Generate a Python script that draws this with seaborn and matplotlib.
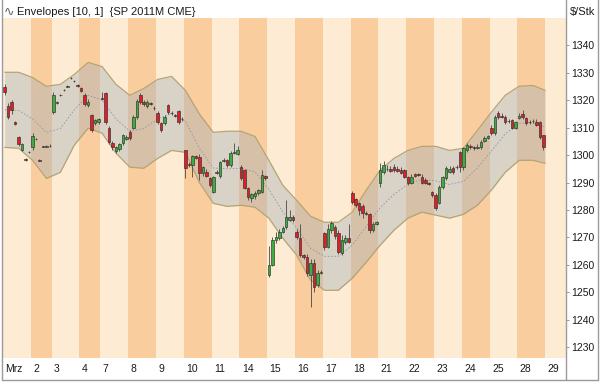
import numpy as np
import pandas as pd
import seaborn as sns
import matplotlib.pyplot as plt
from matplotlib.lines import Line2D
from matplotlib.transforms import ScaledTranslation

# Handelstage (Bars je Tag), Tag 29 ohne Daten
day_labels = ['Mrz', '2', '3', '4', '7', '8', '9', '10', '11', '14', '15',
              '16', '17', '18', '21', '22', '23', '24', '25', '28', '29']
day_bars = [8, 6, 8, 6, 8, 8, 8, 8, 8, 8, 8, 8, 8, 8, 8, 8, 8, 8, 8, 8, 6]

opens = [
    1325, 1318, 1319.5, 1312, 1306.5, 1302, 1298.5, 1301,          # Mrz 1
    1303, 1306, 1298.3, 1303.2, 1303, 1303.5,                       # 2
    1315.6, 1319, 1321.8, 1323.6, 1325, 1328, 1327, 1325.5,         # 3
    1324.5, 1321.8, 1318.2, 1314.5, 1311.6, 1312,                   # 4
    1321, 1322.5, 1310, 1304.3, 1301.4, 1302.1, 1304.3, 1306,       # 7
    1308.3, 1310, 1313.8, 1321.8, 1319.2, 1317.8, 1318.9, 1317,     # 8
    1315.2, 1311.6, 1311.6, 1318.2, 1315.2, 1314.6, 1316, 1313,     # 9
    1301.7, 1296.6, 1296.3, 1299.6, 1299.2, 1293.4, 1294, 1291.5,   # 10
    1286.4, 1293.6, 1292.3, 1298, 1298.1, 1296.3, 1300.7, 1300.3,   # 11
    1295.6, 1294.5, 1288, 1284.3, 1285, 1286, 1286.4, 1292.3,       # 14
    1256.2, 1260, 1269, 1269.7, 1271.9, 1273.7, 1276.2, 1277.3,     # 15
    1272, 1269.7, 1263.5, 1262.8, 1256.2, 1260.6, 1252.6, 1257,     # 16
    1271.5, 1266.4, 1272.6, 1273.7, 1271.5, 1264.2, 1268.3, 1269.7, # 17
    1286, 1283.9, 1282.4, 1281.3, 1278.8, 1278.4, 1272.6, 1275,     # 18
    1289.7, 1293.7, 1295, 1295, 1295.6, 1294.8, 1294.5, 1294.5,     # 21
    1292, 1289.7, 1293, 1293, 1292, 1291, 1289.7, 1286.4,           # 22
    1285.3, 1282.4, 1288.3, 1291.5, 1293.8, 1295.2, 1295.5, 1301,   # 23
    1295.5, 1301.7, 1303.2, 1302.8, 1302.6, 1302.8, 1305, 1306.2,   # 24
    1309.8, 1308, 1315.2, 1314.2, 1313.8, 1312.5, 1312.7, 1310,     # 25
    1313.4, 1315, 1313.4, 1312, 1312.5, 1312, 1312, 1307.2,         # 28
]
closes = [
    1323, 1314, 1316.5, 1311.5, 1304, 1304, 1298.3, 1301.2,
    1307, 1305.7, 1298, 1303, 1303.3, 1303.2,
    1322, 1319.3, 1322, 1323.8, 1325.3, 1328.2, 1327.2, 1325.3,
    1323.5, 1318.5, 1319.2, 1309, 1312.7, 1313,
    1320.3, 1312, 1304.7, 1302.8, 1302.8, 1303.9, 1307.2, 1306.5,
    1306.1, 1313.8, 1319.6, 1319.2, 1318.5, 1319.2, 1318.6, 1317.3,
    1312, 1309, 1313.8, 1315.6, 1315.5, 1314.3, 1312, 1313.3,
    1295.2, 1296.3, 1299.6, 1298.8, 1293.4, 1295.6, 1292.5, 1289,
    1291.9, 1293.9, 1297.4, 1298.3, 1296.3, 1300.7, 1301, 1302,
    1291.5, 1288, 1284.6, 1285.7, 1286, 1287.2, 1292.6, 1291.5,
    1260, 1269, 1270, 1271.9, 1273.3, 1277.3, 1277.3, 1276.2,
    1270, 1263.5, 1262.8, 1257, 1260.6, 1251.8, 1257, 1257.5,
    1266.4, 1273, 1275.2, 1270.5, 1264.6, 1269, 1269.7, 1268.3,
    1282.8, 1281.7, 1279.9, 1278.8, 1278.4, 1272.6, 1274.8, 1275.5,
    1294.5, 1296.3, 1294.8, 1294.3, 1294.6, 1294.3, 1293.6, 1292,
    1289.7, 1292, 1292.3, 1292.8, 1290, 1290, 1289.5, 1285.3,
    1280.6, 1288.3, 1292, 1295.2, 1295, 1293.7, 1295.8, 1295.5,
    1302.5, 1303.6, 1302.8, 1302.6, 1303, 1304.7, 1306.2, 1307,
    1308, 1313.8, 1313.8, 1314, 1312, 1312.3, 1310, 1312,
    1314.4, 1313.8, 1311.6, 1312.2, 1312.3, 1311, 1306.5, 1302.8,
]
highs = [
    1326, 1319, 1320, 1312.5, 1307, 1304.5, 1299, 1301.5,
    1308, 1306.3, 1298.6, 1303.5, 1303.6, 1304,
    1323, 1319.6, 1322.3, 1324, 1325.6, 1328.5, 1327.5, 1325.8,
    1325, 1322.5, 1320.5, 1315, 1313, 1313.5,
    1323, 1323, 1310.5, 1305, 1303.3, 1304.5, 1307.8, 1307.5,
    1309, 1314.5, 1320.5, 1322.5, 1320, 1320, 1319.5, 1317.8,
    1316, 1312, 1314.5, 1318.8, 1316, 1315, 1316.5, 1313.8,
    1302, 1297.5, 1300, 1300, 1300.5, 1296.2, 1295, 1292,
    1292.5, 1294.5, 1298, 1299, 1298.5, 1301.5, 1304.5, 1303.5,
    1296.3, 1295, 1288.5, 1286.2, 1286.8, 1287.7, 1294.5, 1292.8,
    1267, 1270, 1272, 1273, 1274, 1283.5, 1280, 1278,
    1273, 1275, 1264, 1264, 1262, 1262, 1258, 1258,
    1272, 1275, 1276, 1274.5, 1272.6, 1270.8, 1271, 1275,
    1287, 1284.5, 1283, 1282, 1279.5, 1279, 1275.5, 1276,
    1297, 1298, 1296.5, 1296, 1296.8, 1296, 1295.5, 1295,
    1292.5, 1293, 1293.5, 1293.6, 1293, 1291.5, 1290.3, 1287,
    1286, 1289, 1292.5, 1296, 1296, 1296, 1296.5, 1301.5,
    1303, 1304.5, 1304, 1303.3, 1304, 1305.5, 1307, 1307.5,
    1311, 1314.5, 1316, 1315.5, 1314.5, 1313, 1313.3, 1312.5,
    1315.2, 1316.5, 1314, 1312.8, 1313, 1313, 1312.5, 1307.5,
]
lows = [
    1322, 1313, 1315, 1311, 1303.5, 1301.5, 1298, 1300.7,
    1302, 1305.5, 1297.8, 1302.8, 1302.8, 1303,
    1315, 1318.7, 1321.5, 1323.3, 1324.7, 1327.7, 1326.8, 1325,
    1323, 1318, 1317.5, 1308.5, 1311, 1311.5,
    1320, 1311.5, 1304, 1302, 1300.8, 1301.5, 1303.8, 1305.5,
    1305.5, 1309.5, 1313, 1318.5, 1318, 1317.3, 1318.3, 1316.5,
    1311.5, 1308.5, 1311, 1315, 1314.8, 1314, 1311.5, 1312.5,
    1291.5, 1295.5, 1292, 1298.5, 1290.8, 1292.5, 1292, 1288.5,
    1286, 1293, 1291.5, 1297.5, 1295.8, 1295.8, 1300.3, 1300,
    1291, 1287.5, 1283.5, 1283, 1284, 1285.5, 1286, 1291,
    1255.5, 1259.5, 1268, 1269, 1271.5, 1273, 1276, 1275.5,
    1269.5, 1263, 1262, 1256, 1244.6, 1250, 1252, 1256.5,
    1265.5, 1266, 1271.5, 1269.5, 1264, 1263.5, 1267.5, 1267.8,
    1282, 1281, 1278, 1277, 1278, 1271.5, 1272, 1274.5,
    1288.5, 1293, 1294.3, 1293.8, 1294, 1293.8, 1293, 1291.5,
    1289, 1289.3, 1292, 1292.3, 1289.5, 1289.5, 1289, 1284.8,
    1279.8, 1282, 1287.5, 1291, 1293.5, 1293, 1295, 1293.7,
    1294.5, 1301.3, 1302.3, 1302, 1302.3, 1302.3, 1304.8, 1305.8,
    1307.5, 1307.5, 1313.3, 1313.5, 1311.5, 1311.8, 1309.5, 1309.5,
    1313, 1313.3, 1311, 1311.5, 1311.8, 1310.5, 1306, 1302,
]

# Envelopes [10, 1]: Mittellinie und Bänder (Stützstellen je halben Tag)
env_bar = [0, 4, 8, 12, 16, 20, 24, 28, 32, 36, 40, 44, 48, 52, 56, 60, 64, 68, 72, 76,
           80, 84, 88, 92, 96, 100, 104, 108, 112, 116, 120, 124, 128, 132, 136, 140,
           144, 148, 152, 155.5]
env_upper = [1330.2, 1330.2, 1328.3, 1325.1, 1325.8, 1329.4, 1333.8, 1332.3, 1325.8, 1321.8,
             1324.3, 1327.6, 1328.7, 1323.6, 1315.0, 1308.3, 1308.7, 1308.7, 1306.8, 1298.1,
             1289.0, 1283.5, 1277.7, 1275.5, 1275.5, 1279.2, 1287.2, 1294.5, 1298.8, 1301.7,
             1303.2, 1303.2, 1301.7, 1302.5, 1309.0, 1315.6, 1321.8, 1325.1, 1325.4, 1323.6]
env_lower = [1302.8, 1302.5, 1298.1, 1291.5, 1293.7, 1303.6, 1309.8, 1308.0, 1300.7, 1295.6,
             1295.2, 1298.8, 1301.7, 1301.0, 1290.0, 1282.4, 1281.3, 1281.7, 1281.0, 1277.0,
             1269.7, 1263.5, 1254.4, 1250.7, 1250.7, 1255.1, 1260.9, 1267.1, 1272.6, 1277.0,
             1279.2, 1278.1, 1277.0, 1278.4, 1281.7, 1287.2, 1293.7, 1298.1, 1298.1, 1297.0]
env_ma = [1316.5, 1316.3, 1313.2, 1308.3, 1309.7, 1316.5, 1321.8, 1320.1, 1313.2, 1308.7,
          1309.7, 1313.2, 1315.2, 1312.3, 1302.5, 1295.3, 1295.0, 1295.2, 1293.9, 1287.5,
          1279.3, 1273.5, 1266.0, 1263.1, 1263.1, 1267.1, 1274.0, 1280.8, 1285.7, 1289.3,
          1291.2, 1290.6, 1289.3, 1290.4, 1295.3, 1301.4, 1307.7, 1311.6, 1311.7, 1310.3]

y_ticks = list(range(1230, 1341, 10))

sns.set_style('white')
plt.rcParams['font.family'] = ['Liberation Sans', 'DejaVu Sans']

candles = pd.DataFrame({'open': opens, 'high': highs, 'low': lows, 'close': closes})
candles['bar'] = np.arange(len(candles))
env = pd.DataFrame({'bar': env_bar, 'upper': env_upper, 'lower': env_lower, 'ma': env_ma})

fig = plt.figure(figsize=(6, 3.84), dpi=100)
ax = fig.add_axes([3 / 600, 26 / 384, 563 / 600, 340 / 384])

# Tagesstreifen
bounds = np.concatenate([[0], np.cumsum(day_bars)]) - 0.5
for i in range(len(day_labels)):
    ax.axvspan(bounds[i], bounds[i + 1], color='#fdecd3' if i % 2 == 0 else '#facd9f',
               lw=0, zorder=0)

# Envelope-Band
ax.fill_between(env['bar'], env['lower'], env['upper'], color='#a8aeb6', alpha=0.42,
                lw=0, zorder=1)
sns.lineplot(data=env, x='bar', y='upper', ax=ax, color='#b3a574', lw=0.9, zorder=2)
sns.lineplot(data=env, x='bar', y='lower', ax=ax, color='#b3a574', lw=0.9, zorder=2)
sns.lineplot(data=env, x='bar', y='ma', ax=ax, color='#8b98b4', lw=0.6,
             linestyle=(0, (2, 2)), zorder=2)

# Kerzen
up = candles['close'] >= candles['open']
ax.vlines(candles['bar'], candles['low'], candles['high'], color='#474747', lw=0.6, zorder=3)
ax.bar(candles['bar'], candles['close'] - candles['open'], bottom=candles['open'], width=0.72,
       color=np.where(up, '#3cae3c', '#e01e24'), edgecolor='#2e2e2e', lw=0.45, zorder=4)

ax.set_xlim(bounds[0], bounds[-1])
ax.set_ylim(1226, 1350)
ax.set_xlabel('')
ax.set_ylabel('')

ax.yaxis.tick_right()
ax.set_yticks(y_ticks)
ax.set_yticklabels([str(t) for t in y_ticks], fontsize=7.5, color='#1a1a1a')
ax.tick_params(axis='y', direction='out', length=2.5, width=0.6, color='#888888', pad=1.5)

ax.set_xticks(bounds[:-1])
ax.set_xticklabels(day_labels, fontsize=7.5, color='#1a1a1a', ha='left')
ax.tick_params(axis='x', direction='out', length=3, width=0.6, color='#888888', pad=1.5)
for lbl in ax.get_xticklabels():
    lbl.set_transform(lbl.get_transform() + ScaledTranslation(2.5 / 100, 0, fig.dpi_scale_trans))

for s in ['top', 'bottom', 'right', 'left']:
    ax.spines[s].set_visible(False)

# Rahmen und Trennlinie
frame = dict(color='#9a9a9a', lw=1.0, transform=fig.transFigure)
fig.add_artist(Line2D([2 / 600, 2 / 600], [4 / 384, 1], **frame))
fig.add_artist(Line2D([566 / 600, 566 / 600], [4 / 384, 1], **frame))
fig.add_artist(Line2D([598 / 600, 598 / 600], [4 / 384, 1], **frame))
fig.add_artist(Line2D([2 / 600, 598 / 600], [4 / 384, 4 / 384], **frame))

fig.text(4 / 600, 1 - 12 / 384, '\u223f', fontsize=9, color='#606060', va='center',
         family='DejaVu Sans')
fig.text(17 / 600, 1 - 12 / 384, 'Envelopes [10, 1]  {SP 2011M CME}', fontsize=8,
         color='#1a1a1a', va='center')
fig.text(570 / 600, 1 - 12 / 384, '$/Stk', fontsize=8, color='#1a1a1a', va='center')

fig.savefig('out.png', dpi=100)
